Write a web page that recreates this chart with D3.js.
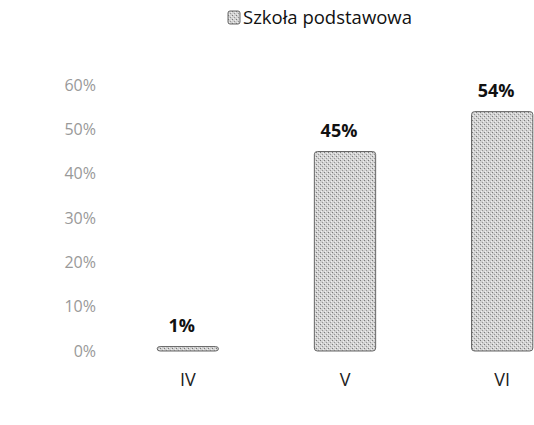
<!DOCTYPE html>
<html>
<head>
<meta charset="utf-8">
<script src="https://cdn.jsdelivr.net/npm/d3@7"></script>
<style>
  body { margin: 0; background: #fff; }
  text { font-family: "Open Sans", "Noto Sans", sans-serif; }
</style>
</head>
<body>
<script>
      // dane wykresu
      var categories = ["IV", "V", "VI"];
      var values = [1, 45, 54];
      var tickValues = [0, 10, 20, 30, 40, 50, 60];
      var seriesName = "Szkoła podstawowa";

      var w = 534, h = 425;

      var svg = d3.select("body").append("svg")
          .attr("width", w)
          .attr("height", h);

      // wzor kropkowany udajacy skan
      var defs = svg.append("defs");
      var pat = defs.append("pattern")
          .attr("id", "stipple")
          .attr("width", 4)
          .attr("height", 4)
          .attr("patternUnits", "userSpaceOnUse");
      pat.append("rect").attr("width", 4).attr("height", 4).attr("fill", "#d2d2d2");
      pat.append("rect").attr("x", 0).attr("y", 0).attr("width", 1).attr("height", 1).attr("fill", "#7a7a7a");
      pat.append("rect").attr("x", 2).attr("y", 2).attr("width", 1).attr("height", 1).attr("fill", "#959595");
      pat.append("rect").attr("x", 3).attr("y", 1).attr("width", 1).attr("height", 1).attr("fill", "#f0f0f0");
      pat.append("rect").attr("x", 1).attr("y", 3).attr("width", 1).attr("height", 1).attr("fill", "#f0f0f0");

      var xScale = d3.scaleBand()
          .domain(categories)
          .range([110, 580])
          .paddingInner(0.61)
          .paddingOuter(0.3);

      var yScale = d3.scaleLinear()
          .domain([0, 60])
          .range([351, 85]);

      // os Y - tylko etykiety
      var yAxis = d3.axisLeft(yScale)
          .tickValues(tickValues)
          .tickSize(0)
          .tickPadding(0)
          .tickFormat(function(d) { return d + "%"; });

      var gy = svg.append("g")
          .attr("transform", "translate(96,0)")
          .call(yAxis);
      gy.select(".domain").remove();
      gy.selectAll("text")
          .attr("font-size", "16px")
          .attr("fill", "#999")
          .attr("font-family", "'Open Sans', sans-serif");

      // os X - tylko etykiety
      var xAxis = d3.axisBottom(xScale).tickSize(0).tickPadding(0);
      var gx = svg.append("g")
          .attr("transform", "translate(0,373)")
          .call(xAxis);
      gx.select(".domain").remove();
      gx.selectAll("text")
          .attr("font-size", "18px")
          .attr("fill", "#222")
          .attr("font-family", "'Open Sans', sans-serif");

      // slupki
      svg.selectAll("rect.bar")
          .data(values)
          .enter()
          .append("rect")
          .attr("class", "bar")
          .attr("x", function(d, i) { return xScale(categories[i]); })
          .attr("y", function(d) { return yScale(d); })
          .attr("width", xScale.bandwidth())
          .attr("height", function(d) { return yScale(0) - yScale(d); })
          .attr("rx", 3)
          .attr("fill", "url(#stipple)")
          .attr("stroke", "#666")
          .attr("stroke-width", 1);

      // etykiety wartosci
      svg.selectAll("text.val")
          .data(values)
          .enter()
          .append("text")
          .attr("class", "val")
          .attr("x", function(d, i) { return xScale(categories[i]) + xScale.bandwidth() / 2 - 6; })
          .attr("y", function(d) { return yScale(d) - 15; })
          .attr("text-anchor", "middle")
          .attr("font-size", "18px")
          .attr("font-weight", "bold")
          .attr("fill", "#111")
          .text(function(d) { return d + "%"; });

      // legenda
      var legend = svg.append("g").attr("transform", "translate(228,11)");
      legend.append("rect")
          .attr("width", 12)
          .attr("height", 13)
          .attr("rx", 2)
          .attr("fill", "url(#stipple)")
          .attr("stroke", "#666");
      legend.append("text")
          .attr("x", 15)
          .attr("y", 7)
          .attr("dy", "0.35em")
          .attr("font-size", "18.5px")
          .attr("fill", "#111")
          .text(seriesName);
</script>
</body>
</html>
